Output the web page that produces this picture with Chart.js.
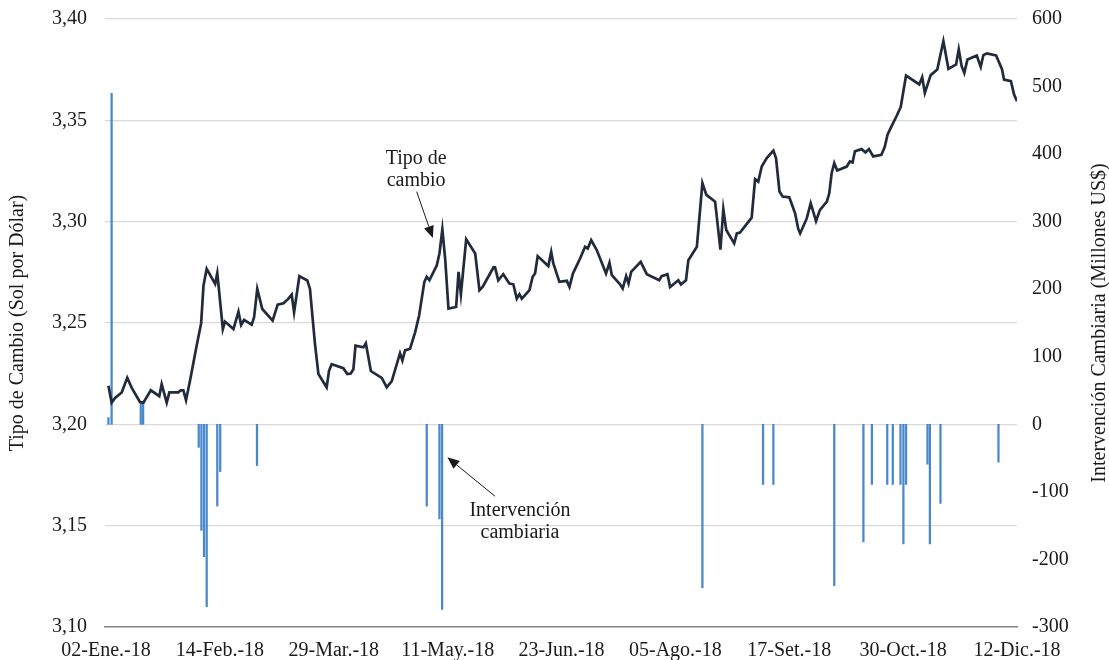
<!DOCTYPE html>
<html>
<head>
<meta charset="utf-8">
<title>Tipo de cambio e intervención cambiaria 2018</title>
<script src="https://cdn.jsdelivr.net/npm/chart.js"></script>
<style>
  html, body { margin: 0; padding: 0; background: #fff; }
  .chart-box { width: 1109px; height: 660px; position: relative; }
</style>
</head>
<body>
<div class="chart-box"><canvas id="fxChart"></canvas></div>
<script>
// x values are days counted from 02-Ene.-18
const tickDays = [0, 43, 86, 129, 172, 215, 258, 301, 344];
const tickLabels = ['02-Ene.-18', '14-Feb.-18', '29-Mar.-18', '11-May.-18', '23-Jun.-18',
                    '05-Ago.-18', '17-Set.-18', '30-Oct.-18', '12-Dic.-18'];

// tipo de cambio (sol por dólar)
const rateDays = [
  0.9, 2.1, 3.4, 5.9, 8.0, 9.7, 12.8, 14.1, 16.9, 20.1, 21.0, 22.9, 23.9, 27.3, 28.2, 29.2,
  30.2, 31.7, 34.2, 35.9, 36.8, 38.0, 41.2, 42.0, 42.8, 44.1, 44.9, 48.1, 50.0, 51.0, 52.1,
  55.0, 55.9, 57.1, 59.0, 62.9, 64.8, 67.0, 68.8, 70.1, 71.0, 73.0, 76.0, 77.0, 78.9, 80.2,
  83.3, 84.2, 85.2, 89.6, 91.1, 92.4, 93.4, 94.2, 97.2, 98.1, 100.0, 104.1, 106.0, 107.9,
  111.0, 111.9, 112.9, 114.8, 116.7, 118.2, 120.2, 121.1, 122.1, 124.9, 125.9, 127.0, 128.1,
  129.3, 132.2, 133.1, 134.0, 136.0, 139.4, 141.0, 142.2, 146.3, 146.9, 148.1, 150.0, 152.3,
  153.8, 155.1, 156.1, 157.0, 159.9, 161.1, 162.0, 163.0, 167.0, 168.1, 168.9, 171.2, 174.0,
  175.0, 176.3, 179.0, 180.9, 181.9, 183.2, 185.3, 188.8, 190.1, 191.0, 194.1, 195.1, 196.4,
  197.3, 198.3, 201.9, 204.2, 208.9, 209.8, 212.0, 213.0, 216.1, 217.1, 219.0, 219.9, 223.1,
  225.2, 226.7, 230.0, 232.0, 233.1, 234.2, 237.2, 238.2, 239.4, 243.8, 245.1, 246.3, 247.6,
  249.5, 252.0, 253.0, 254.3, 255.5, 258.0, 260.2, 261.4, 262.1, 264.6, 266.1, 268.1, 269.6,
  272.2, 273.1, 274.0, 275.0, 276.1, 279.7, 280.9, 281.9, 282.8, 285.3, 286.8, 288.1, 289.7,
  292.8, 294.1, 295.1, 296.6, 298.5, 300.1, 302.1, 307.1, 308.2, 309.2, 311.4, 313.9, 316.2,
  318.1, 321.0, 322.0, 323.1, 324.1, 325.3, 328.8, 330.3, 331.3, 332.6, 336.1, 338.3, 339.1,
  341.7, 342.9, 344.0
];
const rateValues = [
  3.219, 3.2107, 3.213, 3.2157, 3.223, 3.218, 3.211, 3.2107, 3.2168, 3.2139, 3.2198, 3.2107,
  3.2158, 3.2158, 3.2168, 3.2168, 3.2119, 3.2215, 3.2388, 3.2498, 3.2685, 3.2767, 3.2693,
  3.2746, 3.2643, 3.247, 3.2507, 3.247, 3.2556, 3.249, 3.2515, 3.2492, 3.2528, 3.2668, 3.2569,
  3.2512, 3.2591, 3.2597, 3.2619, 3.264, 3.2553, 3.2731, 3.271, 3.2668, 3.2396, 3.2248, 3.2182,
  3.2264, 3.2297, 3.2277, 3.2248, 3.2251, 3.2272, 3.2388, 3.238, 3.24, 3.2263, 3.2229, 3.2183,
  3.2213, 3.2351, 3.2315, 3.2365, 3.2373, 3.2454, 3.2536, 3.2703, 3.2728, 3.2711, 3.2785,
  3.2843, 3.2962, 3.281, 3.2571, 3.2579, 3.2752, 3.2642, 3.2913, 3.2843, 3.2662, 3.2678,
  3.2774, 3.2774, 3.2711, 3.2741, 3.2695, 3.2691, 3.262, 3.2642, 3.262, 3.2662, 3.2728, 3.2744,
  3.283, 3.2781, 3.2851, 3.2794, 3.2703, 3.2708, 3.2678, 3.2744, 3.2818, 3.2876, 3.2868,
  3.2909, 3.286, 3.2744, 3.2797, 3.2736, 3.2691, 3.267, 3.2731, 3.2695, 3.2752, 3.2802, 3.2741,
  3.2711, 3.2731, 3.2741, 3.2678, 3.2711, 3.269, 3.2711, 3.281, 3.2876, 3.319, 3.3132, 3.3099,
  3.2862, 3.3061, 3.2959, 3.2893, 3.2942, 3.2946, 3.302, 3.321, 3.3198, 3.3272, 3.3314, 3.3351,
  3.3314, 3.3149, 3.3124, 3.312, 3.3041, 3.2964, 3.2942, 3.3016, 3.3091, 3.3003, 3.3058,
  3.3099, 3.314, 3.3239, 3.3289, 3.3253, 3.3272, 3.3297, 3.3292, 3.3347, 3.3358, 3.3342,
  3.3358, 3.3322, 3.333, 3.3371, 3.3429, 3.347, 3.352, 3.3566, 3.3721, 3.3677, 3.3713, 3.3635,
  3.3723, 3.3751, 3.3891, 3.3754, 3.3776, 3.385, 3.3767, 3.3734, 3.38, 3.382, 3.3764, 3.3822,
  3.383, 3.382, 3.3754, 3.3701, 3.3693, 3.3627, 3.3594
];

// intervención cambiaria (millones US$)
const interventionDays = [0.9, 2.1, 13.1, 14.0, 35.0, 36.0, 37.0, 38.0, 42.0, 43.1, 57.0,
  121.1, 125.9, 126.9, 225.2, 248.1, 252.0, 275.0, 286.0, 289.2, 295.0, 297.1, 300.0, 301.1,
  302.1, 310.2, 311.1, 315.1, 337.0];
const interventionValues = [10, 490, 32, 32, -34, -157, -196, -270, -121, -70, -61,
  -121, -140, -274, -242, -89, -89, -239, -174, -89, -89, -89, -89, -177,
  -89, -59, -177, -117, -56];

const FONT = "'Liberation Serif', 'Times New Roman', serif";
const TEXT = '#1a1a1a';

// axis titles (right one reads bottom-to-top like the left one)
const axisTitles = {
  id: 'axisTitles',
  afterDraw(chart) {
    const { ctx, chartArea } = chart;
    const midY = (chartArea.top + chartArea.bottom) / 2;
    ctx.save();
    ctx.font = '20px ' + FONT;
    ctx.fillStyle = TEXT;
    ctx.textAlign = 'center';
    ctx.textBaseline = 'middle';
    [[18, 'Tipo de Cambio (Sol por Dólar)'], [chart.width - 9, 'Intervención Cambiaria (Millones US$)']]
      .forEach(([x, t]) => {
        ctx.save();
        ctx.translate(x, midY);
        ctx.rotate(-Math.PI / 2);
        ctx.fillText(t, 0, 0);
        ctx.restore();
      });
    ctx.restore();
  }
};

// callouts, placed in data coordinates (day, tipo de cambio)
const notes = [
  { lines: ['Tipo de', 'cambio'], at: [117.1, 3.331], from: [117.3, 3.3148], to: [123.4, 3.2919] },
  { lines: ['Intervención', 'cambiaria'], at: [156.3, 3.1574], from: [146.9, 3.1645], to: [128.9, 3.1837] }
];

const callouts = {
  id: 'callouts',
  afterDatasetsDraw(chart) {
    const { ctx } = chart;
    const xs = chart.scales.x, ys = chart.scales.y;
    ctx.save();
    ctx.font = '20px ' + FONT;
    ctx.fillStyle = TEXT;
    ctx.strokeStyle = TEXT;
    ctx.textAlign = 'center';
    ctx.textBaseline = 'middle';
    notes.forEach(n => {
      const tx = xs.getPixelForValue(n.at[0]);
      const ty = ys.getPixelForValue(n.at[1]);
      n.lines.forEach((l, i) => ctx.fillText(l, tx, ty + i * 22));

      const x1 = xs.getPixelForValue(n.from[0]), y1 = ys.getPixelForValue(n.from[1]);
      const x2 = xs.getPixelForValue(n.to[0]), y2 = ys.getPixelForValue(n.to[1]);
      const ang = Math.atan2(y2 - y1, x2 - x1);
      const head = 12, half = 5;
      const bx = x2 - head * Math.cos(ang), by = y2 - head * Math.sin(ang);
      ctx.lineWidth = 1;
      ctx.beginPath();
      ctx.moveTo(x1, y1);
      ctx.lineTo(bx, by);
      ctx.stroke();
      ctx.beginPath();
      ctx.moveTo(x2, y2);
      ctx.lineTo(bx + half * Math.sin(ang), by - half * Math.cos(ang));
      ctx.lineTo(bx - half * Math.sin(ang), by + half * Math.cos(ang));
      ctx.closePath();
      ctx.fill();
    });
    ctx.restore();
  }
};

// keep the tick padding from pushing the plot down
const trimPadding = axis => { axis.paddingTop = 6; axis.paddingBottom = 6; };

const ctx = document.getElementById('fxChart').getContext('2d');
new Chart(ctx, {
  type: 'bar',
  data: {
    datasets: [
      {
        type: 'line',
        label: 'Tipo de cambio',
        data: rateDays.map((d, i) => ({ x: d, y: rateValues[i] })),
        yAxisID: 'y',
        borderColor: '#212b3b',
        borderWidth: 2.7,
        pointRadius: 0,
        tension: 0,
        order: 0
      },
      {
        type: 'bar',
        label: 'Intervención cambiaria',
        data: interventionDays.map((d, i) => ({ x: d, y: interventionValues[i] })),
        yAxisID: 'y2',
        backgroundColor: '#4a88cc',
        barThickness: 1.6,
        order: 1
      }
    ]
  },
  options: {
    responsive: true,
    maintainAspectRatio: false,
    animation: false,
    layout: { padding: { top: 19, left: 0, right: 0, bottom: 0 } },
    plugins: { legend: { display: false }, tooltip: { enabled: false } },
    scales: {
      x: {
        type: 'linear',
        min: -0.4,
        max: 344,
        offset: false,
        grid: { display: false, drawTicks: false },
        border: { display: true, color: '#868686', width: 1.5 },
        afterBuildTicks: axis => { axis.ticks = tickDays.map(v => ({ value: v })); },
        afterFit: axis => { axis.height = 33; },
        ticks: {
          autoSkip: false,
          maxRotation: 0,
          padding: 12,
          color: TEXT,
          font: { family: FONT, size: 20 },
          callback: (v, i) => tickLabels[i]
        }
      },
      y: {
        position: 'left',
        min: 3.10,
        max: 3.40,
        ticks: {
          stepSize: 0.05,
          padding: 18,
          color: TEXT,
          font: { family: FONT, size: 20 },
          callback: v => v.toFixed(2).replace('.', ',')
        },
        grid: { color: '#d9d9d9', lineWidth: 1.2, drawTicks: false },
        border: { display: false },
        afterFit: axis => { axis.width = 105; trimPadding(axis); }
      },
      y2: {
        position: 'right',
        min: -300,
        max: 600,
        ticks: {
          stepSize: 100,
          padding: 15,
          color: TEXT,
          font: { family: FONT, size: 20 }
        },
        grid: { display: false, drawTicks: false },
        border: { display: false },
        afterFit: axis => { axis.width = 92; trimPadding(axis); }
      }
    }
  },
  plugins: [axisTitles, callouts]
});
</script>
</body>
</html>
